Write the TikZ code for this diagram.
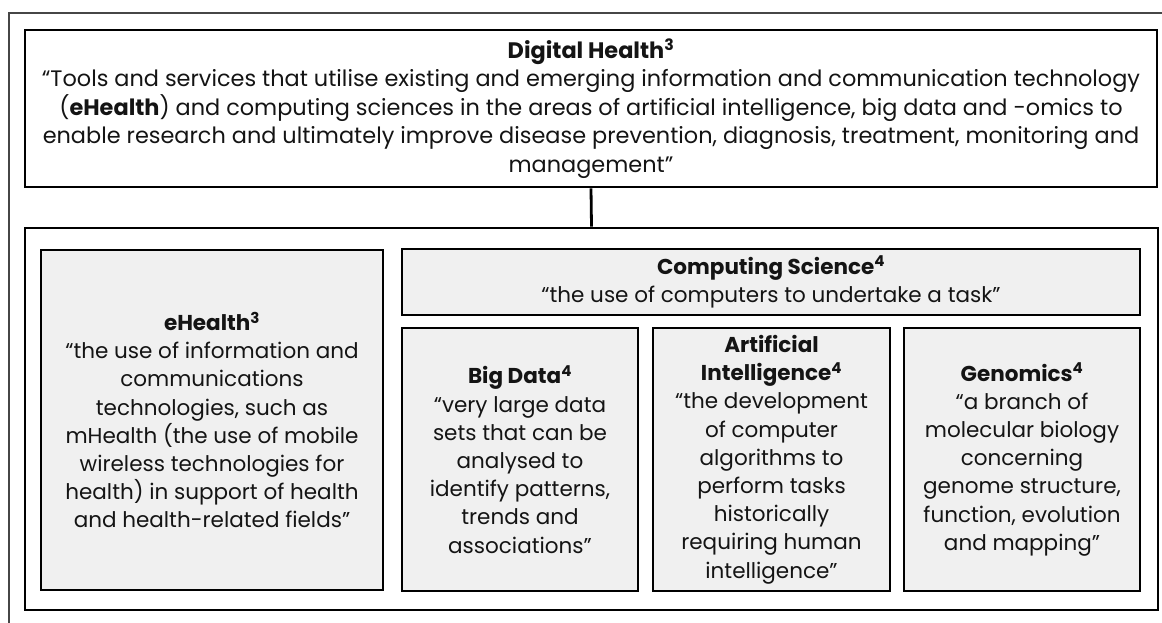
\documentclass[tikz,border=0pt]{standalone}
\usepackage{fontspec}
\setmainfont{Poppins}
\usetikzlibrary{positioning}
\definecolor{boxgray}{RGB}{240,240,240}
\definecolor{inkgray}{RGB}{20,20,20}
\definecolor{framegray}{RGB}{70,70,70}
\tikzset{
  x=1pt, y=-1pt,
  txt/.style={font=\fontsize{21.5}{28.2}\selectfont, text=inkgray, align=center, inner sep=0pt},
  panel/.style={draw=black, line width=2.6pt, fill=white, inner sep=0pt, txt},
  card/.style={panel, fill=boxgray},
  link/.style={draw=black, line width=2.8pt},
}
\newcommand{\ttl}[2]{\textbf{#1}\textsuperscript{\textbf{#2}}}
\begin{document}
\begin{tikzpicture}
\useasboundingbox (0,0) rectangle (1162,622);
\begin{scope}
\clip (0,0) rectangle (1162,622);
\draw[framegray, line width=1.2pt] (9,640) -- (9,13) -- (1180,13);
\end{scope}

% headline definition
\node[panel, minimum width=1132, minimum height=157,
      font=\fontsize{22.4}{28.5}\selectfont] (dh) at (591,108.5)
  {\ttl{Digital Health}{3}\\
   “Tools and services that utilise existing and emerging information and communication technology\\
   (\textbf{eHealth}) and computing sciences in the areas of artificial intelligence, big data and -omics to\\
   enable research and ultimately improve disease prevention, diagnosis, treatment, monitoring and\\
   management”};

% container for the components
\node[panel, minimum width=1133, minimum height=382] (comp) at (591.5,419) {};

\node[card, minimum width=342, minimum height=340] (eh) at (212,420)
  {\ttl{eHealth}{3}\\
   “the use of information and\\
   communications\\
   technologies, such as\\
   mHealth (the use of mobile\\
   wireless technologies for\\
   health) in support of health\\
   and health-related fields”};

\node[card, minimum width=738, minimum height=66] (cs) at (771,282)
  {\ttl{Computing Science}{4}\\
   “the use of computers to undertake a task”};

\node[card, minimum width=236, minimum height=263] (bd) at (520,459.5)
  {\ttl{Big Data}{4}\\
   “very large data\\
   sets that can be\\
   analysed to\\
   identify patterns,\\
   trends and\\
   associations”};

\node[card, minimum width=237, minimum height=263] (ai) at (771.5,459.5)
  {\textbf{Artificial}\\
   \ttl{Intelligence}{4}\\
   “the development\\
   of computer\\
   algorithms to\\
   perform tasks\\
   historically\\
   requiring human\\
   intelligence”};

\node[card, minimum width=236, minimum height=263] (gn) at (1022,459.5)
  {\ttl{Genomics}{4}\\
   “a branch of\\
   molecular biology\\
   concerning\\
   genome structure,\\
   function, evolution\\
   and mapping”};

\draw[link] (dh.south) -- (comp.north);
\end{tikzpicture}
\end{document}
